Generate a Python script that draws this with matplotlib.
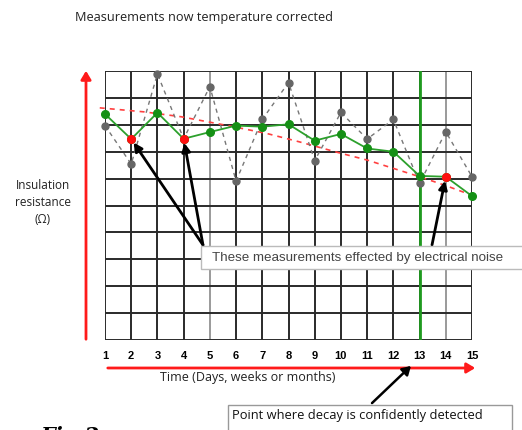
import numpy as np
import matplotlib.pyplot as plt
from matplotlib.patches import FancyArrowPatch

W, H = 522, 430

# data
t = np.arange(1, 16)
raw = [7.97, 6.54, 9.89, 7.48, 9.42, 5.91, 8.20, 9.57, 6.67, 8.46, 7.47, 8.20, 5.82, 7.74, 6.07]
corrected = [8.40, 7.47, 8.45, 7.48, 7.73, 7.97, 7.93, 8.02, 7.41, 7.66, 7.12, 7.00, 6.10, 6.07, 5.35]
noisy_idx = [1, 3, 13]          # points 2, 4, 14
trend_x = [0.8, 2.5, 3.9, 5.9, 7.2, 8.4, 10.0, 11.0, 12.0, 13.0, 14.0, 15.0]
trend_y = [8.63, 8.48, 8.30, 7.93, 7.67, 7.37, 6.94, 6.69, 6.38, 6.07, 5.74, 5.38]
detect_at = 13
tick_labels = [str(i) for i in t]

plt.rcParams['font.family'] = ['Open Sans', 'DejaVu Sans']

fig = plt.figure(figsize=(W / 100, H / 100), dpi=100)

def fx(x):
    return x / W

def fy(y):
    return 1 - y / H

ax = fig.add_axes([fx(105), fy(340), fx(472) - fx(105), fy(71) - fy(340)])
ax.set_xlim(1, 15)
ax.set_ylim(0, 10)

# grid
for x in t:
    c = '#9a9a9a' if x in (5, 14) else '#2a2a2a'
    ax.axvline(x, color=c, lw=1.4, zorder=1)
for y in range(0, 11):
    ax.axhline(y, color='#2a2a2a', lw=1.4, zorder=1)
for s in ax.spines.values():
    s.set_visible(False)

ax.axvline(detect_at, color='#1f9a1f', lw=2, zorder=2)

ax.plot(trend_x, trend_y, color='#ff4040', lw=1.2, ls=(0, (3, 3)), zorder=3, clip_on=False)
ax.plot(t, raw, color='#777777', lw=1, ls=(0, (3, 3)), marker='o', ms=5,
        mfc='#666666', mec='#666666', zorder=3, clip_on=False)
ax.plot(t, corrected, color='#2ca02c', lw=1.3, marker='o', ms=5.5,
        mfc='#159015', mec='#159015', zorder=4, clip_on=False)
ax.plot([t[i] for i in noisy_idx], [corrected[i] for i in noisy_idx], 'o',
        ms=5.5, color='#ff1010', zorder=5, clip_on=False)

ax.set_yticks([])
ax.set_xticks(t)
ax.set_xticklabels(tick_labels, fontsize=8, fontweight='bold', family='Liberation Sans')
ax.tick_params(axis='x', length=0, pad=8)

# red axis arrows
fig.add_artist(FancyArrowPatch((fx(86), fy(342)), (fx(86), fy(68)), transform=fig.transFigure,
                               arrowstyle='-|>,head_length=5,head_width=3', color='#ff1a1a', lw=2))
fig.add_artist(FancyArrowPatch((fx(105), fy(368)), (fx(478), fy(368)), transform=fig.transFigure,
                               arrowstyle='-|>,head_length=5,head_width=3', color='#ff1a1a', lw=2))

fig.text(fx(75), fy(17), 'Measurements now temperature corrected', fontsize=9.2, va='center', color='#222222')
fig.text(fx(43), fy(202), 'Insulation\nresistance\n(\u03a9)', fontsize=8.5, ha='center', va='center',
         linespacing=1.4, color='#222222')
fig.text(fx(248), fy(378), 'Time (Days, weeks or months)', fontsize=9, ha='center', va='center', color='#222222')

# noise annotation box
ax.annotate('', xy=(2, corrected[1]), xytext=(fx(203), fy(245)), textcoords='figure fraction',
            arrowprops=dict(arrowstyle='-|>,head_length=0.5,head_width=0.25', color='black', lw=2,
                            shrinkA=0, shrinkB=3), zorder=6)
ax.annotate('', xy=(4, corrected[3]), xytext=(fx(203), fy(245)), textcoords='figure fraction',
            arrowprops=dict(arrowstyle='-|>,head_length=0.5,head_width=0.25', color='black', lw=2,
                            shrinkA=0, shrinkB=3), zorder=6)
ax.annotate('', xy=(14, corrected[13]), xytext=(fx(432), fy(245)), textcoords='figure fraction',
            arrowprops=dict(arrowstyle='-|>,head_length=0.5,head_width=0.25', color='black', lw=2,
                            shrinkA=0, shrinkB=3), zorder=6)
box = plt.Rectangle((fx(201), fy(269)), fx(340), fy(246) - fy(269), transform=fig.transFigure,
                    facecolor='white', edgecolor='#bbbbbb', lw=1, zorder=7)
fig.add_artist(box)
fig.text(fx(212), fy(258), 'These measurements effected by electrical noise', fontsize=9.6,
         family='Liberation Sans', color='#444444', va='center', zorder=8)

# decay annotation box
fig.add_artist(FancyArrowPatch((fx(370), fy(405)), (fx(413), fy(364)), transform=fig.transFigure,
                               arrowstyle='-|>,head_length=5,head_width=3', color='black', lw=1.8))
box2 = plt.Rectangle((fx(228), fy(440)), fx(284), fy(405) - fy(440), transform=fig.transFigure,
                     facecolor='white', edgecolor='#999999', lw=1, zorder=7)
fig.add_artist(box2)
fig.text(fx(232), fy(415), 'Point where decay is confidently detected', fontsize=9.3,
         color='#111111', va='center', zorder=8)

fig.text(fx(40), fy(436), 'Fig 2', fontsize=15, family='DejaVu Serif', fontweight='bold',
         style='italic', va='center')

fig.savefig('out.png', dpi=100)
